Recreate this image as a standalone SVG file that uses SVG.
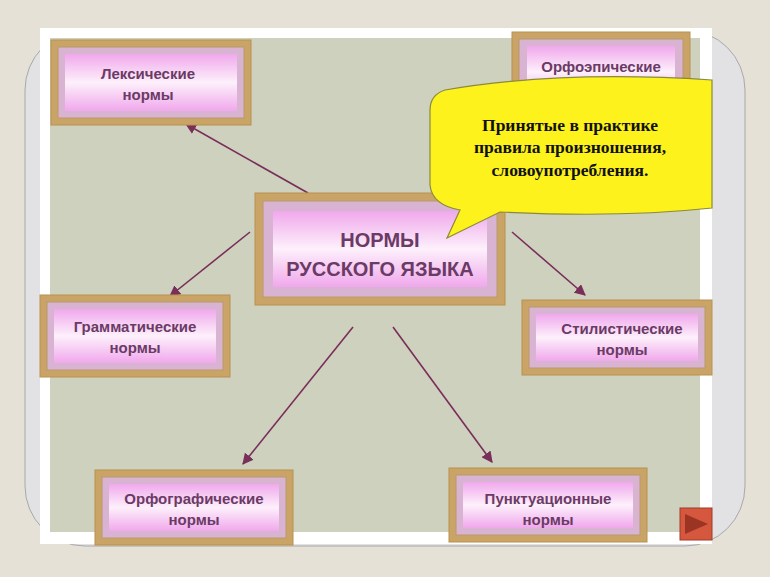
<svg xmlns="http://www.w3.org/2000/svg" width="770" height="577" viewBox="0 0 770 577">
<defs>
<linearGradient id="face" x1="0" y1="0" x2="0" y2="1">
<stop offset="0" stop-color="#f0a8ec"/><stop offset="0.5" stop-color="#fdf0fb"/><stop offset="1" stop-color="#f0a8ec"/>
</linearGradient>
<marker id="ar" viewBox="0 0 10 10" refX="9" refY="5" markerWidth="7" markerHeight="7" orient="auto"><path d="M0,0 L10,5 L0,10 z" fill="#7a2e5a"/></marker>
<style>
.fr{fill:#c9a466;stroke:#b8924f;stroke-width:1}
.bv{fill:#d9b3d2;stroke:#b89a6a;stroke-width:1}
.fc{fill:url(#face)}
.t{font-family:"Liberation Sans",Arial,sans-serif;font-weight:bold;font-size:15px;fill:#6b3a66;text-anchor:middle}
.c{stroke:#7a2e5a;stroke-width:1.6;fill:none;marker-end:url(#ar)}
</style>
</defs>
<rect width="770" height="577" fill="#e6e1d6"/>
<rect x="25" y="30" width="720" height="516" rx="60" fill="#e2e2e4" stroke="#a8a8a8" stroke-width="1"/>
<rect x="40" y="28" width="672" height="516" fill="#ffffff"/>
<rect x="50" y="38" width="650" height="494" fill="#cdd1be"/>
<g id="connectors">
<line class="c" x1="308" y1="193" x2="186" y2="124"/>
<line class="c" x1="250" y1="232" x2="170" y2="296"/>
<line class="c" x1="512" y1="232" x2="585" y2="295"/>
<line class="c" x1="353" y1="327" x2="243" y2="464"/>
<line class="c" x1="393" y1="327" x2="492" y2="462"/>
</g>
<g id="n-orfoep">
<rect class="fr" x="512" y="32" width="178" height="80"/><rect class="bv" x="519" y="39" width="164" height="66"/><rect class="fc" x="527" y="46" width="148" height="52"/>
<text class="t" x="601" y="72">Орфоэпические</text>
</g>
<g id="n-leks">
<rect class="fr" x="51" y="40" width="200" height="85"/><rect class="bv" x="58" y="47" width="186" height="71"/><rect class="fc" x="65" y="54" width="172" height="57"/>
<text class="t" x="148" y="79">Лексические</text><text class="t" x="148" y="100">нормы</text>
</g>
<g id="n-center">
<rect class="fr" x="255" y="193" width="250" height="112"/><rect class="bv" x="263" y="201" width="234" height="96"/><rect class="fc" x="273" y="211" width="214" height="76"/>
<text class="t" x="380" y="247" style="font-size:20px">НОРМЫ</text><text class="t" x="380" y="276" style="font-size:20px">РУССКОГО ЯЗЫКА</text>
</g>
<g id="n-bubble">
<path d="M712,80 Q560,70 445,90 Q430,95 430,110 L430,185 Q432,205 460,210 L447,238 L500,212 Q620,218 712,208 Z" fill="#fdf21c" stroke="#8a8a3a" stroke-width="1.2"/>
<g style="font-family:'Liberation Serif','Times New Roman',serif;font-weight:bold;font-size:17.5px;fill:#111;text-anchor:middle">
<text x="570" y="131">Принятые в практике</text><text x="570" y="153">правила произношения,</text><text x="570" y="176">словоупотребления.</text></g>
</g>
<g id="n-gram">
<rect class="fr" x="40" y="295" width="190" height="82"/><rect class="bv" x="47" y="302" width="176" height="68"/><rect class="fc" x="54" y="309" width="162" height="54"/>
<text class="t" x="135" y="332">Грамматические</text><text class="t" x="135" y="353">нормы</text>
</g>
<g id="n-stil">
<rect class="fr" x="522" y="300" width="190" height="75"/><rect class="bv" x="529" y="307" width="176" height="61"/><rect class="fc" x="536" y="314" width="162" height="47"/>
<text class="t" x="622" y="334">Стилистические</text><text class="t" x="622" y="355">нормы</text>
</g>
<g id="n-orfogr">
<rect class="fr" x="95" y="470" width="198" height="75"/><rect class="bv" x="102" y="477" width="184" height="61"/><rect class="fc" x="109" y="484" width="170" height="47"/>
<text class="t" x="194" y="504">Орфографические</text><text class="t" x="194" y="525">нормы</text>
</g>
<g id="n-punkt">
<rect class="fr" x="449" y="468" width="198" height="74"/><rect class="bv" x="456" y="475" width="184" height="60"/><rect class="fc" x="463" y="482" width="170" height="46"/>
<text class="t" x="548" y="504">Пунктуационные</text><text class="t" x="548" y="525">нормы</text>
</g>
<g id="play">
<rect x="680" y="508" width="32" height="32" fill="#d4573e" stroke="#a03a28"/>
<path d="M685,514 L708,524 L685,534 Z" fill="#9c3424"/>
</g>
</svg>
